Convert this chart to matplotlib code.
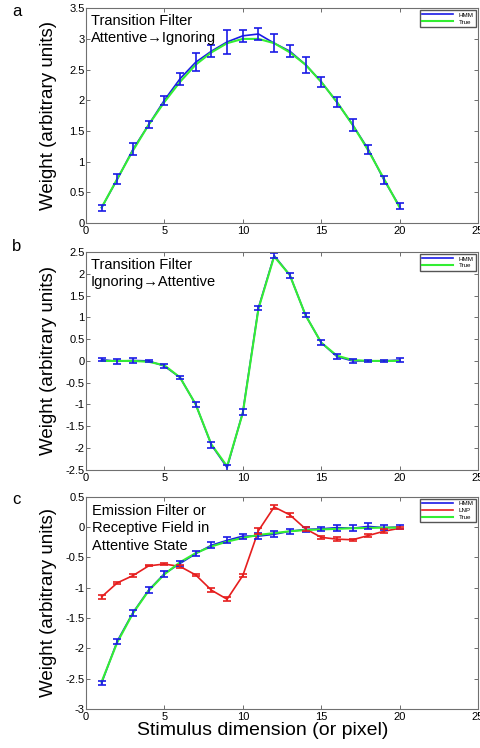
import numpy as np
import matplotlib.pyplot as plt

plt.rcParams['font.family'] = ['Liberation Sans', 'DejaVu Sans']

x = np.arange(1, 21)

# panel a: Attentive -> Ignoring transition filter
a_hmm = [0.25, 0.71, 1.2, 1.6, 2.0, 2.35, 2.62, 2.8, 2.95, 3.05,
         3.08, 2.93, 2.8, 2.58, 2.3, 1.97, 1.6, 1.2, 0.7, 0.27]
a_err = [0.05, 0.08, 0.1, 0.06, 0.07, 0.1, 0.15, 0.1, 0.2, 0.1,
         0.1, 0.15, 0.1, 0.13, 0.08, 0.08, 0.1, 0.07, 0.07, 0.05]
a_true = [0.25, 0.72, 1.18, 1.6, 1.97, 2.3, 2.58, 2.78, 2.93, 3.0,
          3.0, 2.93, 2.78, 2.58, 2.3, 1.97, 1.6, 1.18, 0.72, 0.25]

# panel b: Ignoring -> Attentive transition filter
b_hmm = [0.03, -0.01, 0.01, 0.0, -0.12, -0.38, -1.0, -1.93, -2.45, -1.18,
         1.22, 2.42, 1.97, 1.05, 0.42, 0.1, 0.0, 0.0, 0.0, 0.02]
b_err = [0.04, 0.05, 0.05, 0.03, 0.05, 0.04, 0.05, 0.06, 0.07, 0.07,
         0.04, 0.06, 0.06, 0.05, 0.05, 0.05, 0.04, 0.03, 0.03, 0.04]
b_true = [0.0, 0.0, 0.0, -0.02, -0.1, -0.38, -1.0, -1.92, -2.42, -1.2,
          1.2, 2.4, 1.97, 1.05, 0.42, 0.12, 0.02, 0.0, 0.0, 0.0]

# panel c: emission filter
c_hmm = [-2.57, -1.88, -1.41, -1.04, -0.77, -0.6, -0.44, -0.3, -0.22, -0.15,
         -0.15, -0.12, -0.07, -0.04, -0.03, -0.01, -0.02, 0.01, -0.01, 0.0]
c_hmm_err = [0.03, 0.04, 0.05, 0.05, 0.05, 0.04, 0.04, 0.05, 0.05, 0.04,
             0.05, 0.05, 0.04, 0.04, 0.03, 0.05, 0.05, 0.05, 0.04, 0.04]
c_lnp = [-1.15, -0.92, -0.8, -0.64, -0.61, -0.65, -0.79, -1.04, -1.19, -0.8,
         -0.06, 0.33, 0.2, -0.03, -0.17, -0.2, -0.21, -0.14, -0.07, -0.02]
c_lnp_err = [0.03, 0.02, 0.03, 0.01, 0.02, 0.03, 0.02, 0.03, 0.03, 0.03,
             0.05, 0.03, 0.03, 0.03, 0.02, 0.03, 0.02, 0.03, 0.03, 0.02]
c_true = [-2.55, -1.9, -1.42, -1.05, -0.78, -0.58, -0.43, -0.32, -0.24, -0.18,
          -0.13, -0.1, -0.07, -0.05, -0.04, -0.03, -0.02, -0.015, -0.01, -0.01]

blue = '#1a1ae6'
green = '#33ee33'
red = '#e61e1e'

fig = plt.figure(figsize=(4.8, 7.48), dpi=100)
ax_a = fig.add_axes([0.179, 0.702, 0.817, 0.287])
ax_b = fig.add_axes([0.179, 0.372, 0.817, 0.291])
ax_c = fig.add_axes([0.179, 0.052, 0.817, 0.284])


def style(ax, ylim, yticks):
    ax.set_xlim(0, 25)
    ax.set_ylim(*ylim)
    ax.set_xticks([0, 5, 10, 15, 20, 25])
    ax.set_yticks(yticks)
    ax.set_yticklabels(['%g' % t for t in yticks])
    ax.tick_params(direction='in', top=True, right=True, labelsize=8,
                   length=3, width=0.6, color='#555555')
    ax.tick_params(axis='y', pad=1)
    ax.tick_params(axis='x', pad=2)
    for s in ax.spines.values():
        s.set_color('#707070')
        s.set_linewidth(0.8)
    ax.set_ylabel('Weight (arbitrary units)', fontsize=13.5)
    ax.yaxis.set_label_coords(-0.075, 0.5)


def add_legend(ax):
    ax.legend(loc='upper right', fontsize=4.5, handlelength=5, borderpad=0.35,
              labelspacing=0.25, fancybox=False, edgecolor='#555555',
              framealpha=1, bbox_to_anchor=(0.997, 0.997), borderaxespad=0.2)


def hmm_plot(ax, mean, err, true):
    ax.plot(x, mean, color=blue, lw=1.2, label='HMM')
    ax.plot(x, true, color=green, lw=1.5, label='True')
    ax.errorbar(x, mean, yerr=err, fmt='none', ecolor=blue, elinewidth=1.2,
                capsize=3, capthick=1.2)


# a
hmm_plot(ax_a, a_hmm, a_err, a_true)
style(ax_a, (0, 3.5), [0, 0.5, 1, 1.5, 2, 2.5, 3, 3.5])
ax_a.text(0.012, 0.975, 'Transition Filter\nAttentive\u2192Ignoring',
          transform=ax_a.transAxes, ha='left', va='top', fontsize=10.5,
          linespacing=1.3)
add_legend(ax_a)

# b
hmm_plot(ax_b, b_hmm, b_err, b_true)
style(ax_b, (-2.5, 2.5), [-2.5, -2, -1.5, -1, -0.5, 0, 0.5, 1, 1.5, 2, 2.5])
ax_b.text(0.012, 0.975, 'Transition Filter\nIgnoring\u2192Attentive',
          transform=ax_b.transAxes, ha='left', va='top', fontsize=10.5,
          linespacing=1.3)
add_legend(ax_b)

# c
ax_c.plot(x, c_hmm, color=blue, lw=1.2, label='HMM')
ax_c.plot(x, c_lnp, color=red, lw=1.2, label='LNP')
ax_c.plot(x, c_true, color=green, lw=1.5, label='True')
ax_c.errorbar(x, c_hmm, yerr=c_hmm_err, fmt='none', ecolor=blue,
              elinewidth=1.2, capsize=3, capthick=1.2)
ax_c.errorbar(x, c_lnp, yerr=c_lnp_err, fmt='none', ecolor=red,
              elinewidth=1.2, capsize=3, capthick=1.2)
style(ax_c, (-3, 0.5), [-3, -2.5, -2, -1.5, -1, -0.5, 0, 0.5])
ax_c.text(0.015, 0.965, 'Emission Filter or\nReceptive Field in\nAttentive State',
          transform=ax_c.transAxes, ha='left', va='top', fontsize=10.5,
          linespacing=1.3)
add_legend(ax_c)
ax_c.set_xlabel('Stimulus dimension (or pixel)', fontsize=14)
ax_c.xaxis.set_label_coords(0.45, -0.062)

fig.text(0.025, 0.985, 'a', fontsize=12, va='center')
fig.text(0.025, 0.670, 'b', fontsize=12, va='center')
fig.text(0.025, 0.332, 'c', fontsize=12, va='center')

fig.savefig('out.png', dpi=100)
